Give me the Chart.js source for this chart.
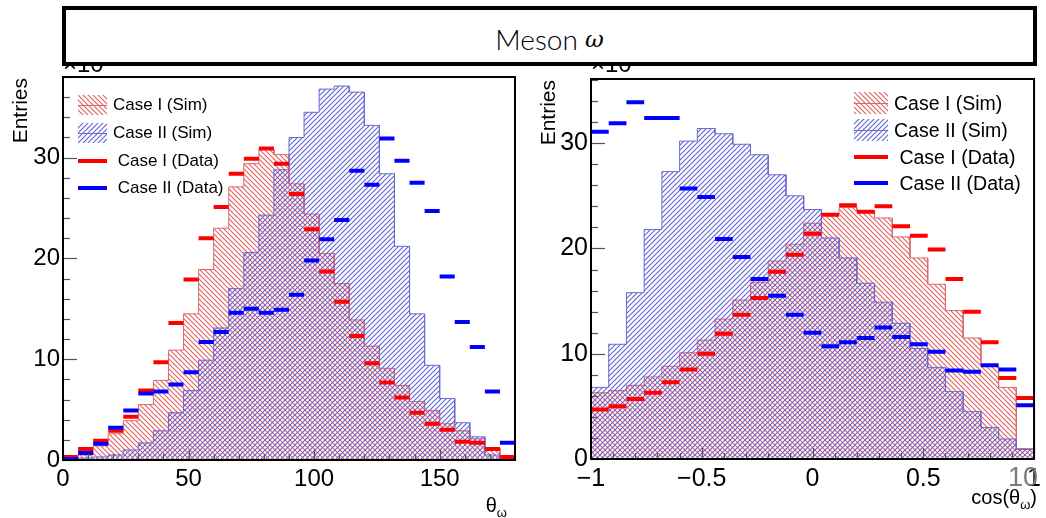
<!DOCTYPE html>
<html>
<head>
<meta charset="utf-8">
<script src="https://cdn.jsdelivr.net/npm/chart.js@4.4.0/dist/chart.umd.min.js"></script>
<style>
  body { margin: 0; background: #fff; }
  #wrap { position: relative; width: 1046px; height: 518px; overflow: hidden; font-family: "Liberation Sans", Arial, sans-serif; }
  canvas { position: absolute; top: 0; }
  .mult { position: absolute; top: 50px; font-size: 24px; color: #000; z-index: 1; }
  #titleBox { position: absolute; left: 62px; top: 6px; width: 975px; height: 60px; box-sizing: border-box;
              border: 4px solid #000; background: #fff; z-index: 5; display: flex; align-items: center; justify-content: center;
              padding-top: 6px; font-family: Lato, "Open Sans", sans-serif; font-weight: 300; font-size: 28px; color: #000; }
  #titleBox i { font-family: "DejaVu Serif", serif; font-size: 23px; margin-left: 7px; }
  .ytitle { position: absolute; writing-mode: vertical-rl; transform: rotate(180deg); font-size: 21px; line-height: 1; z-index: 3; }
  .xtitle { position: absolute; font-size: 20px; z-index: 3; white-space: nowrap; }
  .xtitle sub { font-size: 13px; vertical-align: -5px; }
  .leg { position: absolute; display: flex; align-items: center; z-index: 3; white-space: pre; }
  .leg canvas { position: static; margin-right: 6px; }
  #gray10 { position: absolute; left: 1008px; top: 462px; font-size: 27px; color: #7a7a7a; z-index: 2; }
</style>
</head>
<body>
<div id="wrap">
  <span class="mult" style="left:63px">×10³</span>
  <span class="mult" style="left:591px">×10³</span>
  <div id="titleBox">Meson<i>ω</i></div>
  <canvas id="left" width="530" height="518" style="left:0"></canvas>
  <canvas id="right" width="516" height="518" style="left:530px"></canvas>
  <div class="ytitle" style="left:9px; top:78px">Entries</div>
  <div class="ytitle" style="left:537px; top:80px">Entries</div>
  <div class="xtitle" style="right:539px; top:494px">θ<sub>ω</sub></div>
  <div class="xtitle" style="right:9px; top:486px">cos(θ<sub>ω</sub>)</div>
  <div id="gray10">10</div>
  <div id="legLeft"></div>
  <div id="legRight"></div>
</div>
<script>
// ---- data (entries, x10^3) ----
const legendLabels = ['Case I (Sim)', 'Case II (Sim)', ' Case I (Data)', ' Case II (Data)'];

// left: theta_omega, 30 bins of 6 deg
const thetaRange = [0, 180];
const thetaTicks = [0, 50, 100, 150];
const thetaSimI  = [0.2, 0.5, 1.4, 2.6, 3.9, 5.5, 7.9, 10.9, 14.5, 18.9, 23.0, 27.1, 29.4, 30.8, 30.3,
                    27.4, 24.4, 20.5, 17.5, 13.9, 11.3, 9.1, 7.4, 5.8, 4.9, 3.6, 2.9, 2.1, 1.2, 0.2];
const thetaSimII = [0.05, 0.2, 0.3, 0.5, 1.0, 1.7, 2.9, 4.7, 6.9, 9.9, 13.1, 17.0, 20.6, 24.3, 28.8,
                    32.0, 34.5, 36.8, 37.1, 36.5, 33.2, 28.4, 21.2, 14.5, 9.4, 6.1, 3.7, 2.3, 0.5, 0.1];
const thetaDataI = [0.3, 1.1, 1.9, 2.9, 4.3, 6.9, 9.7, 13.6, 17.9, 22.0, 25.1, 28.4, 29.9, 30.9, 29.4,
                    26.4, 22.9, 18.7, 15.7, 12.3, 9.6, 7.7, 6.2, 4.7, 3.6, 3.0, 1.8, 1.7, 1.1, 0.3];
const thetaDataII = [0.1, 0.7, 1.6, 3.2, 4.9, 6.6, 6.8, 7.5, 8.7, 11.7, 12.7, 14.6, 15.0, 14.6, 14.9,
                     16.4, 19.8, 21.9, 23.8, 28.7, 27.3, 31.9, 29.7, 27.5, 24.7, 18.2, 13.7, 11.2, 6.8, 1.7];

// right: cos(theta_omega), 25 bins of 0.08
const cosRange = [-1, 1];
const cosTicks = [-1, -0.5, 0, 0.5, 1];
const cosSimI  = [6.3, 6.5, 7.0, 7.8, 8.8, 10.1, 11.3, 13.3, 15.1, 16.8, 18.8, 20.4, 22.4,
                  23.2, 23.9, 23.6, 22.9, 21.1, 19.1, 16.6, 14.1, 11.5, 8.8, 6.8, 1.0];
const cosSimII = [6.8, 10.9, 15.8, 21.8, 27.3, 30.2, 31.4, 30.9, 29.9, 28.9, 27.0, 25.0, 23.7,
                  21.0, 19.1, 16.7, 14.9, 12.9, 10.5, 8.7, 6.4, 4.5, 3.0, 1.9, 0.9];
const cosDataI = [4.7, 5.0, 5.7, 6.3, 7.3, 8.5, 10.0, 11.9, 13.7, 15.3, 17.8, 19.4, 21.4,
                  23.2, 24.1, 23.5, 24.0, 22.1, 21.2, 19.9, 17.1, 14.0, 11.1, 7.7, 5.8];
const cosDataII = [31.1, 31.9, 33.9, 32.4, 32.4, 25.7, 24.9, 20.9, 19.2, 17.1, 15.5, 13.7, 12.0,
                   10.7, 11.1, 11.5, 12.5, 11.6, 10.9, 10.2, 8.4, 8.3, 8.9, 8.5, 5.1];

const yTicks = [0, 10, 20, 30];

const RED_LINE = '#dd6a6a', BLUE_LINE = '#6a6ad0';
const RED_HATCH = 'rgb(222,95,95)', BLUE_HATCH = 'rgb(95,95,212)';

// bin edges from range + number of bins
function binEdges(range, n) {
  const w = (range[1] - range[0]) / n;
  return Array.from({length: n + 1}, (_, i) => range[0] + i * w);
}

// histogram outline as horizontal steps
function stepPoints(edges, values) {
  const pts = [];
  values.forEach((v, i) => {
    pts.push({x: edges[i], y: v});
    pts.push({x: edges[i + 1], y: v});
  });
  return pts;
}

// one horizontal dash per bin, gaps between
function dashPoints(edges, values) {
  const pts = [];
  values.forEach((v, i) => {
    pts.push({x: edges[i], y: v});
    pts.push({x: edges[i + 1], y: v});
    pts.push({x: edges[i + 1], y: null});
  });
  return pts;
}

// ROOT-like hatch tile, soft lines: dir 1 = "\\", dir -1 = "/"
function hatchTile(color, dir) {
  const s = 5;
  const c = document.createElement('canvas');
  c.width = s; c.height = s;
  const g = c.getContext('2d');
  g.strokeStyle = color;
  g.lineWidth = 1.1;
  for (const off of [-s, 0, s]) {
    g.beginPath();
    if (dir > 0) { g.moveTo(off - 1, -1); g.lineTo(off + s + 1, s + 1); }
    else { g.moveTo(off - 1, s + 1); g.lineTo(off + s + 1, -1); }
    g.stroke();
  }
  return c;
}

// ticks inside the frame + the frame itself
const rootFrame = {
  id: 'rootFrame',
  afterDatasetsDraw(chart, args, o) {
    const {ctx, chartArea: a, scales: {x, y}} = chart;
    ctx.save();
    ctx.strokeStyle = '#555';
    ctx.lineWidth = 1.2;
    let n = Math.round((y.max - y.min) / o.yMinor);
    for (let i = 0; i <= n; i++) {
      const v = y.min + i * o.yMinor;
      const major = Math.abs(v / o.yMajor - Math.round(v / o.yMajor)) < 1e-6;
      const py = Math.round(y.getPixelForValue(v)) + 0.5;
      ctx.beginPath(); ctx.moveTo(a.left, py); ctx.lineTo(a.left + (major ? 14 : 7), py); ctx.stroke();
    }
    n = Math.round((x.max - x.min) / o.xMinor);
    for (let i = 0; i <= n; i++) {
      const v = x.min + i * o.xMinor;
      const major = Math.abs(v / o.xMajor - Math.round(v / o.xMajor)) < 1e-6;
      const px = Math.round(x.getPixelForValue(v)) + 0.5;
      ctx.beginPath(); ctx.moveTo(px, a.bottom); ctx.lineTo(px, a.bottom - (major ? 11 : 6)); ctx.stroke();
    }
    ctx.strokeStyle = '#000';
    ctx.lineWidth = 2;
    ctx.strokeRect(a.left, a.top, a.right - a.left, a.bottom - a.top);
    ctx.restore();
  }
};

function makePanel(id, p) {
  const ctx = document.getElementById(id).getContext('2d');
  const redPat = ctx.createPattern(hatchTile(RED_HATCH, 1), 'repeat');
  const bluePat = ctx.createPattern(hatchTile(BLUE_HATCH, -1), 'repeat');
  const edges = binEdges(p.range, p.simI.length);
  const tickFont = {family: '"Liberation Sans", Arial, sans-serif', size: p.fontSize};

  return new Chart(ctx, {
    type: 'line',
    data: {
      datasets: [
        { label: legendLabels[0], data: stepPoints(edges, p.simI), borderColor: RED_LINE, borderWidth: 1,
          backgroundColor: redPat, fill: 'origin', pointRadius: 0, order: 3 },
        { label: legendLabels[1], data: stepPoints(edges, p.simII), borderColor: BLUE_LINE, borderWidth: 1,
          backgroundColor: bluePat, fill: 'origin', pointRadius: 0, order: 2 },
        { label: legendLabels[2], data: dashPoints(edges, p.dataI), borderColor: '#ff0000', borderWidth: 4,
          fill: false, pointRadius: 0, spanGaps: false, order: 1 },
        { label: legendLabels[3], data: dashPoints(edges, p.dataII), borderColor: '#0000ff', borderWidth: 4,
          fill: false, pointRadius: 0, spanGaps: false, order: 0 }
      ]
    },
    options: {
      responsive: false,
      animation: false,
      devicePixelRatio: 1,
      events: [],
      layout: { padding: { top: p.top, right: p.right, left: 0, bottom: 0 } },
      plugins: {
        legend: { display: false },
        tooltip: { enabled: false },
        rootFrame: p.minor
      },
      scales: {
        x: {
          type: 'linear', min: p.range[0], max: p.range[1],
          afterFit: s => { s.height = p.xAxisH; },
          afterBuildTicks: s => { s.ticks = p.xTicks.map(v => ({value: v})); },
          grid: { display: false, drawTicks: false },
          border: { display: false },
          ticks: { font: tickFont, color: '#000', padding: 5, maxRotation: 0, autoSkip: false,
                   callback: v => (v < 0 ? '\u2212' + Math.abs(v) : String(v)) }
        },
        y: {
          type: 'linear', min: 0, max: p.yMax,
          afterFit: s => { s.width = p.yAxisW; },
          afterBuildTicks: s => { s.ticks = yTicks.map(v => ({value: v})); },
          grid: { display: false, drawTicks: false },
          border: { display: false },
          ticks: { font: tickFont, color: '#000', padding: 3, autoSkip: false }
        }
      }
    },
    plugins: [rootFrame]
  });
}

function buildLegend(el, p) {
  legendLabels.forEach((txt, i) => {
    const row = document.createElement('div');
    row.className = 'leg';
    row.style.left = p.left + 'px';
    row.style.top = (p.centers[i] - 14) + 'px';
    row.style.height = '28px';
    row.style.fontSize = p.fontSize + 'px';
    const sw = document.createElement('canvas');
    sw.width = p.w; sw.height = p.h;
    const g = sw.getContext('2d');
    if (i < 2) {
      g.fillStyle = g.createPattern(hatchTile(i === 0 ? RED_HATCH : BLUE_HATCH, i === 0 ? 1 : -1), 'repeat');
      g.fillRect(0, 0, p.w, p.h);
      g.fillStyle = i === 0 ? RED_LINE : BLUE_LINE;
      g.fillRect(0, Math.floor(p.h / 2), p.w, 1);
    } else {
      g.fillStyle = i === 2 ? '#ff0000' : '#0000ff';
      g.fillRect(0, Math.floor(p.h / 2) - 2, p.w, 4);
    }
    row.appendChild(sw);
    const span = document.createElement('span');
    span.textContent = txt;
    row.appendChild(span);
    el.appendChild(row);
  });
}

makePanel('left', {
  range: thetaRange, xTicks: thetaTicks, simI: thetaSimI, simII: thetaSimII,
  dataI: thetaDataI, dataII: thetaDataII, yMax: 38, fontSize: 24,
  top: 77, right: 15, yAxisW: 63, xAxisH: 58,
  minor: { xMinor: 10, xMajor: 50, yMinor: 2, yMajor: 10 }
});
makePanel('right', {
  range: cosRange, xTicks: cosTicks, simI: cosSimI, simII: cosSimII,
  dataI: cosDataI, dataII: cosDataII, yMax: 36.1, fontSize: 25,
  top: 79, right: 9, yAxisW: 61, xAxisH: 59,
  minor: { xMinor: 0.1, xMajor: 0.5, yMinor: 2, yMajor: 10 }
});

buildLegend(document.getElementById('legLeft'), { left: 78, centers: [105, 133, 161, 188], w: 29, h: 20, fontSize: 17 });
buildLegend(document.getElementById('legRight'), { left: 854, centers: [103, 130, 157, 183], w: 34, h: 22, fontSize: 19.5 });
</script>
</body>
</html>
